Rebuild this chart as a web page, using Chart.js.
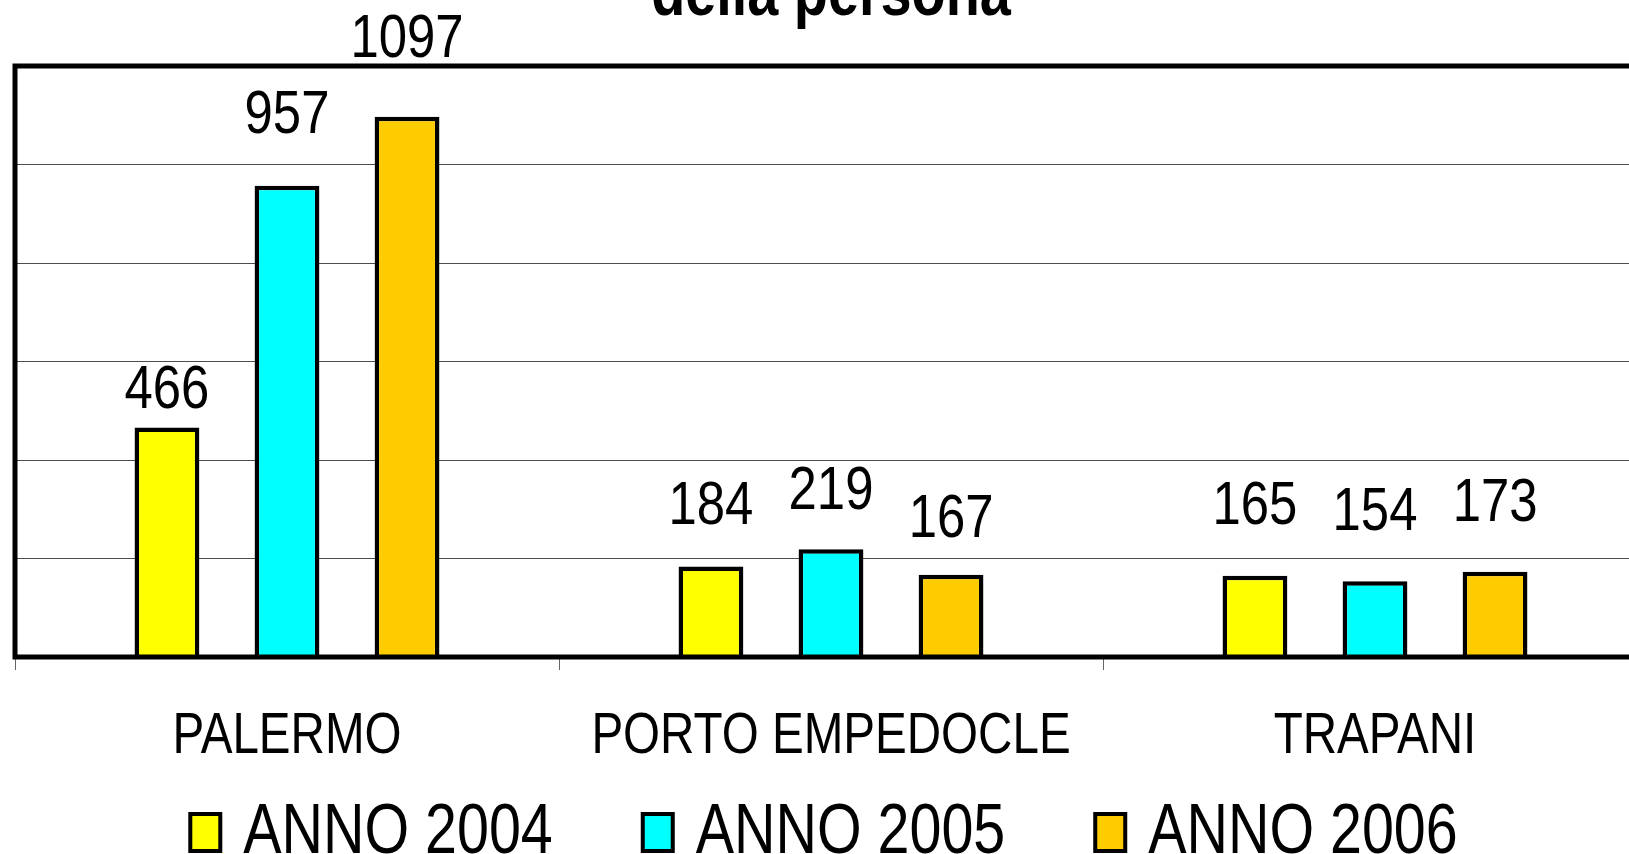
<!DOCTYPE html>
<html lang="it">
<head>
<meta charset="utf-8">
<title>Sbarchi per porto</title>
<script src="https://cdn.jsdelivr.net/npm/chart.js@4/dist/chart.umd.min.js"></script>
<style>
  html, body { margin: 0; padding: 0; background: #fff; overflow: hidden; width: 1629px; height: 854px; }
  #contenitore { position: absolute; left: 0; top: 0; width: 1662px; height: 854px; }
</style>
</head>
<body>
<div id="contenitore"><canvas id="grafico" width="1662" height="854"></canvas></div>
<script>
// dati per porto e per anno
const porti = ['PALERMO', 'PORTO EMPEDOCLE', 'TRAPANI'];
const anni = ['ANNO 2004', 'ANNO 2005', 'ANNO 2006'];
const anno2004 = [466, 184, 165];
const anno2005 = [957, 219, 154];
const anno2006 = [1097, 167, 173];
const scalaY = { min: 0, max: 1200, passo: 200 };
const titolo = 'della persona';

const colori = ['#FFFF00', '#00FFFF', '#FFCC00'];
const FONT = '"Liberation Sans", Arial, sans-serif';
const STRETTO = 0.82; // testo compresso in orizzontale, tipo Arial Narrow

// scrive un testo compresso orizzontalmente
function scrivi(ctx, testo, x, y, size, allinea, grassetto) {
    ctx.save();
    ctx.font = (grassetto ? 'bold ' : '') + size + 'px ' + FONT;
    ctx.textAlign = allinea;
    ctx.textBaseline = 'alphabetic';
    ctx.fillStyle = '#000';
    ctx.translate(x, y);
    ctx.scale(STRETTO, 1);
    ctx.fillText(testo, 0, 0);
    ctx.restore();
}

function larghezza(ctx, testo, size) {
    ctx.save();
    ctx.font = size + 'px ' + FONT;
    const w = ctx.measureText(testo).width * STRETTO;
    ctx.restore();
    return w;
}

// cornice nera attorno all'area del grafico
const cornice = {
    id: 'cornice',
    afterDraw(chart) {
        const { ctx, chartArea: a } = chart;
        ctx.save();
        ctx.strokeStyle = '#000';
        ctx.lineWidth = 5;
        ctx.strokeRect(a.left, a.top, a.right - a.left, a.bottom - a.top);
        ctx.restore();
    }
};

// titolo, valori sopra le barre e nomi dei porti
const testi = {
    id: 'testi',
    afterDraw(chart, args, opts) {
        const { ctx, chartArea: a, scales } = chart;
        scrivi(ctx, titolo, (a.left + a.right) / 2, opts.titoloY, 68, 'center', true);
        chart.data.datasets.forEach((ds, i) => {
            chart.getDatasetMeta(i).data.forEach((barra, j) => {
                scrivi(ctx, String(ds.data[j]), barra.x, barra.y - opts.stacco[i][j], 62, 'center');
            });
        });
        chart.data.labels.forEach((nome, i) => {
            scrivi(ctx, nome, scales.x.getPixelForValue(i), a.bottom + opts.portiDy, 58, 'center');
        });
    }
};

// legenda in basso
const legenda = {
    id: 'legenda',
    afterDraw(chart, args, opts) {
        const { ctx, chartArea: a } = chart;
        const voci = chart.data.datasets.map(ds => ({
            testo: ds.label,
            colore: ds.backgroundColor,
            larg: opts.box + opts.spazio + larghezza(ctx, ds.label, opts.size)
        }));
        const totale = voci.reduce((s, v) => s + v.larg, 0) + opts.distanza * (voci.length - 1);
        let x = (a.left + a.right) / 2 - opts.scarto - totale / 2;
        const base = opts.base;
        ctx.save();
        voci.forEach(v => {
            ctx.fillStyle = v.colore;
            ctx.fillRect(x + 2, base - opts.altezza + 2, opts.box - 4, opts.altezza - 4);
            ctx.strokeStyle = '#000';
            ctx.lineWidth = 4;
            ctx.strokeRect(x + 2, base - opts.altezza + 2, opts.box - 4, opts.altezza - 4);
            scrivi(ctx, v.testo, x + opts.box + opts.spazio, base, opts.size, 'left');
            x += v.larg + opts.distanza;
        });
        ctx.restore();
    }
};

const serie = [anno2004, anno2005, anno2006];

new Chart(document.getElementById('grafico'), {
    type: 'bar',
    data: {
        labels: porti,
        datasets: serie.map((valori, i) => ({
            label: anni[i],
            data: valori,
            backgroundColor: colori[i],
            borderColor: '#000',
            borderWidth: 4.5
        }))
    },
    options: {
        responsive: false,
        animation: false,
        layout: { padding: { top: 66, left: 15, right: 15, bottom: 184 } },
        datasets: {
            bar: { categoryPercentage: 0.662, barPercentage: 0.54 }
        },
        plugins: {
            title: { display: false },
            legend: { display: false },
            tooltip: { enabled: false },
            testi: { titoloY: 15, portiDy: 96, stacco: [[19, 42, 52], [53, 40, 51], [60, 38, 51]] },
            legenda: { size: 70, box: 34, altezza: 41, spazio: 21, distanza: 88, base: 853, scarto: 8 }
        },
        scales: {
            x: {
                grid: { offset: true, drawOnChartArea: false, drawTicks: true, tickLength: 13, color: '#666', lineWidth: 1 },
                border: { display: false },
                ticks: { display: false }
            },
            y: {
                min: scalaY.min,
                max: scalaY.max,
                ticks: { stepSize: scalaY.passo, display: false },
                grid: { color: '#4d4d4d', lineWidth: 1, drawTicks: false },
                border: { display: false }
            }
        }
    },
    plugins: [cornice, testi, legenda]
});
</script>
</body>
</html>
